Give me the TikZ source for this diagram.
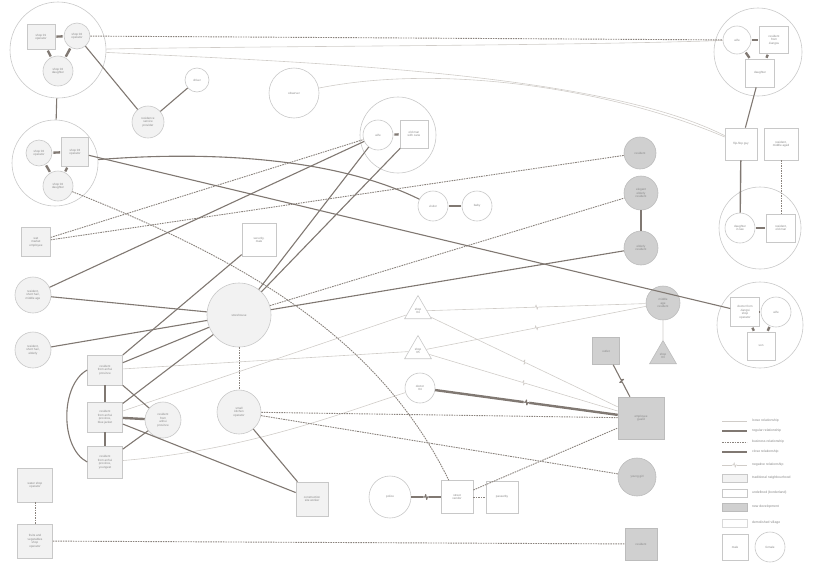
\documentclass[tikz,border=0pt]{standalone}
\usepackage{fontspec}
\setmainfont{Liberation Sans}
\usetikzlibrary{shapes.geometric,decorations.markings}
\definecolor{linec}{RGB}{128,120,114}
\definecolor{dashc}{RGB}{138,131,125}
\definecolor{loosec}{RGB}{208,204,200}
\definecolor{nbord}{RGB}{200,200,200}
\definecolor{tnfill}{RGB}{242,242,242}
\definecolor{ndfill}{RGB}{208,208,208}
\definecolor{ndbord}{RGB}{188,188,188}
\definecolor{txtc}{RGB}{135,135,135}
\newcommand{\ndtxt}{\fontsize{3}{3.5}\selectfont}
\newcommand{\lgtxt}{\fontsize{3.4}{4}\selectfont}
\begin{document}
\begin{tikzpicture}[x=1pt,y=-1pt,
  every node/.style={text=txtc},
  tn/.style={draw=nbord, fill=tnfill, line width=0.6pt},
  un/.style={draw=nbord, fill=white, line width=0.6pt},
  nd/.style={draw=ndbord, fill=ndfill, line width=0.6pt},
  cir/.style={circle, minimum size=#1, inner sep=0pt, align=center, font=\ndtxt},
  box/.style 2 args={rectangle, minimum width=#1, minimum height=#2, inner sep=0pt, align=center, font=\ndtxt},
  tri/.style={regular polygon, regular polygon sides=3, minimum size=#1, inner sep=0pt, align=center, font=\ndtxt},
  bigc/.style={circle, draw=nbord, line width=0.6pt, minimum size=#1, inner sep=0pt},
  reg/.style={draw=linec, line width=1.1pt},
  biz/.style={draw=dashc, line width=0.9pt, dash pattern=on 1.6pt off 0.9pt},
  closerel/.style={draw=linec, line width=2.4pt},
  loose/.style={draw=loosec, line width=0.6pt},
  negl/.style={postaction={decorate, decoration={markings, mark=at position 0.5 with {\fill[white] (-2.6,-2.4) rectangle (2.6,2.4); \draw[draw=loosec, line width=0.6pt, line join=round] (-2.7,0) -- (-1,0) -- (-0.3,-2.3) -- (0.7,2.3) -- (1.4,0) -- (2.7,0);}}}},
  negd/.style={postaction={decorate, decoration={markings, mark=at position 0.5 with {\fill[white] (-2.8,-2.6) rectangle (2.8,2.6); \draw[draw=linec, line width=1.1pt, line join=round] (-2.9,0) -- (-1,0) -- (-0.3,-2.4) -- (0.7,2.4) -- (1.4,0) -- (2.9,0);}}}},
  legt/.style={anchor=west, font=\lgtxt, inner sep=0pt}
]
\useasboundingbox (0,0) rectangle (826,565);

% ---------- enclosing circles ----------
\node[bigc=96] (C1) at (58,50) {};
\node[bigc=86] (C2) at (55,163) {};
\node[bigc=76] (C3) at (398,135) {};
\node[bigc=88] (C4) at (758,52) {};
\node[bigc=82] (C5) at (760,228) {};
\node[bigc=86] (C6) at (760,325) {};

% ---------- nodes ----------
\node[tn, box={28}{25}] (s1op) at (41,37) {shop 01\\operator};
\node[tn, cir=26] (s2op) at (77,36) {shop 02\\operator};
\node[tn, cir=30] (s2d) at (58,71) {shop 02\\daughter};
\node[tn, cir=26] (c2op) at (39,153) {shop 02\\operator};
\node[tn, box={27}{29}] (c2sq) at (75,152) {shop 03\\operator};
\node[tn, cir=30] (c2d) at (58,186) {shop 02\\daughter};
\node[un, cir=24] (driver) at (197,80) {driver};
\node[tn, cir=32] (rsp) at (148,122) {residence\\service\\provider};
\node[un, cir=50] (observer) at (294,93) {observer};
\node[un, cir=30] (wifeA) at (378,135) {wife};
\node[un, box={28}{28}] (oldman) at (414,134) {old man\\with cane};
\node[nd, cir=32] (resA) at (640,153) {resident};
\node[nd, cir=34] (elegant) at (641,193) {elegant\\elderly\\resident};
\node[nd, cir=34] (elderly) at (641,248) {elderly\\resident};
\node[un, cir=28] (wifeB) at (737,40) {wife};
\node[un, box={29}{27}] (jiangsu) at (774,40) {resident\\from\\Jiangsu};
\node[un, box={29}{28}] (daughterB) at (760,73) {daughter};
\node[un, box={32}{32}] (flip) at (741,144) {flip-flop guy};
\node[un, box={34}{32}] (midage) at (781,144) {resident,\\middle aged};
\node[un, cir=30] (dil) at (740,228) {daughter\\in law};
\node[un, box={29}{28}] (oldmanB) at (781,228) {resident,\\old man};
\node[un, box={29}{29}] (jiangxi) at (745,312) {doctor from\\Jiangxi\\shop\\operator};
\node[un, cir=30] (wifeC) at (776,312) {wife};
\node[un, box={28}{28}] (son) at (761,346) {son};
\node[nd, cir=34] (mobile) at (663,303) {middle\\age\\resident};
\node[nd, tri=31] (shop03) at (663,356) {shop\\03};
\node[nd, box={27}{27}] (outlet) at (606,351) {outlet};
\node[nd, box={46}{42}] (guard) at (641,418) {employee\\guard};
\node[nd, cir=38] (girl) at (637,477) {young girl};
\node[nd, box={32}{32}] (resSq) at (641,544) {resident};
\node[un, cir=30] (visitor) at (433,206) {visitor};
\node[un, cir=30] (baby) at (477,206) {baby};
\node[un, tri=31] (shop04) at (418,311) {shop\\04};
\node[un, tri=31] (shop05) at (418,351) {shop\\05};
\node[un, cir=30] (doctor) at (420,388) {doctor\\04};
\node[tn, box={29}{29}] (wetm) at (36,242) {wet\\market\\employee};
\node[tn, cir=36] (rmid) at (33,295) {resident,\\short hair,\\middle age};
\node[tn, cir=36] (reld) at (33,350) {resident,\\short hair,\\elderly};
\node[un, box={34}{33}] (security) at (259,240) {security,\\male};
\node[tn, cir=64] (store) at (239,315) {storehouse};
\node[tn, box={35}{30}] (ah1) at (105,370) {resident\\from anhui\\province};
\node[tn, box={35}{30}] (ah2) at (105,417) {resident\\from anhui\\province,\\blue jacket};
\node[tn, box={35}{32}] (ah3) at (105,462) {resident\\from anhui\\province,\\youngest};
\node[tn, cir=36] (ahc) at (163,420) {resident\\from\\anhui\\province};
\node[tn, cir=44] (kitchen) at (239,412) {small\\kitchen\\operator};
\node[tn, box={32}{34}] (constr) at (312,499) {construction\\site worker};
\node[un, cir=42] (police) at (390,497) {police};
\node[un, box={32}{33}] (vendor) at (457,497) {street\\vendor};
\node[un, box={32}{32}] (passer) at (502,497) {passerby};
\node[tn, box={35}{34}] (water) at (35,485) {water shop\\operator};
\node[tn, box={35}{34}] (fruits) at (35,541) {fruits and\\vegetables\\shop\\operator};

% ---------- loose relationships ----------
\draw[loose] (C1) .. controls (260,46) and (560,46) .. (wifeB);
\draw[loose] (observer) .. controls (450,62) and (620,92) .. (flip);
\draw[loose] (C1) .. controls (300,62) and (600,72) .. (flip);
\draw[loose] (mobile) -- (shop03);
\draw[loose] (ah2) -- (shop04);
\draw[loose] (ah1) -- (shop05);
\draw[loose] (ah3) .. controls (250,450) and (350,410) .. (doctor);
\draw[loose, negl] (shop04) -- (mobile);
\draw[loose, negl] (shop05) -- (mobile);
\draw[loose, negl] (shop04) -- (guard);
\draw[loose, negl] (shop05) -- (guard);

% ---------- business relationships ----------
\draw[biz] (s2op) -- (wifeB);
\draw[biz] (wetm) -- (wifeA);
\draw[biz] (wetm) -- (resA);
\draw[biz] (store) -- (elegant);
\draw[biz] (store) -- (kitchen);
\draw[biz] (kitchen) -- (guard);
\draw[biz] (kitchen) -- (girl);
\draw[biz] (vendor) -- (guard);
\draw[biz] (vendor) -- (passer);
\draw[biz] (water) -- (fruits);
\draw[biz] (fruits) -- (resSq);
\draw[biz] (midage) -- (oldmanB);
\draw[biz] (c2d) .. controls (250,262) and (380,340) .. (vendor);

% ---------- regular relationships ----------
\draw[reg] (s2op) -- (rsp);
\draw[reg] (driver) -- (rsp);
\draw[reg] (C1) -- (C2);
\draw[reg] (c2sq) -- (jiangxi);
\draw[reg] (C2) .. controls (220,150) and (340,160) .. (visitor);
\draw[reg] (rmid) -- (wifeA);
\draw[reg] (wifeA) -- (store);
\draw[reg] (oldman) -- (store);
\draw[reg] (store) -- (rmid);
\draw[reg] (store) -- (reld);
\draw[reg] (store) -- (ah1);
\draw[reg] (store) -- (ah2);
\draw[reg] (store) -- (elderly);
\draw[reg] (ah1) -- (security);
\draw[reg] (ah1) -- (ahc);
\draw[reg] (ah3) -- (ahc);
\draw[reg] (ah1) -- (ah2);
\draw[reg] (ah2) -- (ah3);
\draw[reg] (ah1.west) .. controls (60,385) and (60,448) .. (ah3.west);
\draw[reg] (ah2) -- (constr);
\draw[reg] (kitchen) -- (constr);
\draw[reg] (elegant) -- (elderly);
\draw[reg] (daughterB) -- (flip);
\draw[reg, line width=1.4pt] (flip) -- (dil);
\draw[reg, negd] (outlet) -- (guard);

% ---------- close relationships ----------
\draw[closerel, shorten >=1pt, shorten <=1pt] (s1op) -- (s2op);
\draw[closerel, shorten >=1pt, shorten <=1pt] (s1op) -- (s2d);
\draw[closerel, shorten >=1pt, shorten <=1pt] (s2op) -- (s2d);
\draw[closerel, shorten >=1pt, shorten <=1pt] (c2op) -- (c2sq);
\draw[closerel, shorten >=1pt, shorten <=1pt] (c2op) -- (c2d);
\draw[closerel, shorten >=1pt, shorten <=1pt] (c2sq) -- (c2d);
\draw[closerel, shorten >=1pt, shorten <=1pt] (wifeA) -- (oldman);
\draw[closerel, shorten >=1pt, shorten <=1pt] (visitor) -- (baby);
\draw[closerel, shorten >=1pt, shorten <=1pt] (wifeB) -- (jiangsu);
\draw[closerel, shorten >=1pt, shorten <=1pt] (wifeB) -- (daughterB);
\draw[closerel, shorten >=1pt, shorten <=1pt] (jiangsu) -- (daughterB);
\draw[closerel, shorten >=1pt, shorten <=1pt] (dil) -- (oldmanB);
\draw[closerel, shorten >=1pt, shorten <=1pt] (jiangxi) -- (wifeC);
\draw[closerel, shorten >=1pt, shorten <=1pt] (jiangxi) -- (son);
\draw[closerel, shorten >=1pt, shorten <=1pt] (wifeC) -- (son);
\draw[closerel] (ah2) -- (ahc);
\draw[closerel, negd] (doctor) -- (guard);
\draw[closerel, negd] (police) -- (vendor);

% ---------- legend ----------
\coordinate (la1) at (722,421); \coordinate (lb1) at (747,421);
\coordinate (la2) at (722,431); \coordinate (lb2) at (747,431);
\coordinate (la3) at (722,442); \coordinate (lb3) at (747,442);
\coordinate (la4) at (722,452); \coordinate (lb4) at (747,452);
\coordinate (la5) at (722,465); \coordinate (lb5) at (747,465);
\draw[loose] (la1) -- (lb1);
\draw[reg] (la2) -- (lb2);
\draw[biz] (la3) -- (lb3);
\draw[closerel] (la4) -- (lb4);
\draw[loose, negl] (la5) -- (lb5);
\node[legt] (t1) at (752,421) {loose relationship};
\node[legt] (t2) at (752,431) {regular relationship};
\node[legt] (t3) at (752,442) {business relationship};
\node[legt] (t4) at (752,452) {close relationship};
\node[legt] (t5) at (752,465) {negative relationship};
\node[tn, box={25}{8}] (sw1) at (734.5,478) {};
\node[un, box={25}{8}] (sw2) at (734.5,493) {};
\node[nd, box={25}{8}] (sw3) at (734.5,507) {};
\node[draw=nbord!70, fill=white, line width=0.6pt, box={25}{8}] (sw4) at (734.5,523) {};
\node[legt] (t6) at (752,478) {traditional neighbourhood};
\node[legt] (t7) at (752,493) {undefined (borderland)};
\node[legt] (t8) at (752,507) {new development};
\node[legt] (t9) at (752,523) {demolished village};
\node[un, box={26}{26}] (male) at (735,547) {male};
\node[un, cir=30] (female) at (770,547) {female};
\end{tikzpicture}
\end{document}
